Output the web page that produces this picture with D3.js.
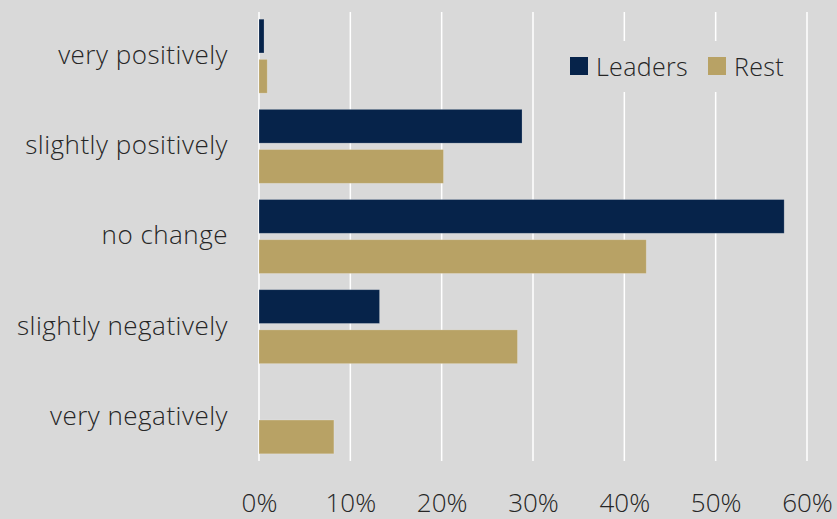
<!DOCTYPE html>
<html lang="en">
  <head>
    <meta charset="UTF-8" />
    <title>Leaders vs Rest</title>
    <style>
      body { margin: 0; background: #d9d9d9; }
      svg text { font-family: "Open Sans", "Lato", sans-serif; font-weight: 300; fill: #262626; }
    </style>
  </head>
  <body>
    <script src="https://cdn.jsdelivr.net/npm/d3@7"></script>
    <script>
      // data (percent)
      var categories = ["very positively", "slightly positively", "no change", "slightly negatively", "very negatively"];
      var seriesNames = ["Leaders", "Rest"];
      var leaders = [0.55, 28.8, 57.5, 13.2, 0];
      var rest = [0.9, 20.2, 42.4, 28.3, 8.2];
      var xTicks = [0, 10, 20, 30, 40, 50, 60];

      var colors = { Leaders: "#06234a", Rest: "#b8a265" };

      var w = 837;
      var h = 519;
      var margin = { top: 12, right: 30, bottom: 58, left: 259 };

      var svg = d3.select("body")
                  .append("svg")
                  .attr("width", w)
                  .attr("height", h);

      var data = categories.map(function(c, i) {
        return { cat: c, Leaders: leaders[i], Rest: rest[i] };
      });

      var xScale = d3.scaleLinear()
                     .domain([0, 60])
                     .range([margin.left, w - margin.right]);

      var yScale = d3.scaleBand()
                     .domain(categories)
                     .range([margin.top, h - margin.bottom])
                     .paddingInner(0.18)
                     .paddingOuter(0.08);

      var ySub = d3.scaleBand()
                   .domain(seriesNames)
                   .range([0, yScale.bandwidth()])
                   .paddingInner(0.16);

      // gridlines
      svg.append("g")
         .selectAll("line")
         .data(xTicks)
         .enter()
         .append("line")
         .attr("x1", function(d) { return xScale(d); })
         .attr("x2", function(d) { return xScale(d); })
         .attr("y1", margin.top)
         .attr("y2", h - margin.bottom)
         .style("stroke", "#ffffff")
         .style("stroke-width", 1.5);

      // bars
      var groups = svg.append("g")
         .selectAll("g")
         .data(data)
         .enter()
         .append("g")
         .attr("transform", function(d) { return "translate(0," + yScale(d.cat) + ")"; });

      groups.selectAll("rect")
         .data(function(d) {
           return seriesNames.map(function(s) { return { key: s, value: d[s] }; });
         })
         .enter()
         .filter(function(d) { return d.value > 0; })
         .append("rect")
         .attr("x", xScale(0))
         .attr("y", function(d) { return ySub(d.key); })
         .attr("width", function(d) { return xScale(d.value) - xScale(0); })
         .attr("height", ySub.bandwidth())
         .style("fill", function(d) { return colors[d.key]; })
         .style("stroke", "rgba(255,255,255,0.25)")
         .style("stroke-width", 0.8);

      // category labels
      svg.append("g")
         .selectAll("text")
         .data(categories)
         .enter()
         .append("text")
         .attr("x", margin.left - 31)
         .attr("y", function(d) { return yScale(d) + yScale.bandwidth() / 2 + 1; })
         .attr("text-anchor", "end")
         .attr("dominant-baseline", "middle")
         .style("font-size", "26px")
         .style("letter-spacing", "0.5px")
         .text(function(d) { return d; });

      // x axis
      var xAxis = d3.axisBottom()
                    .scale(xScale)
                    .tickValues(xTicks)
                    .tickSize(0)
                    .tickPadding(0)
                    .tickFormat(function(d) { return d + "%"; });

      var gx = svg.append("g")
         .attr("transform", "translate(0," + (h - margin.bottom) + ")")
         .call(xAxis);
      gx.select(".domain").remove();
      gx.selectAll("text")
        .attr("y", 51)
        .attr("dy", null)
        .style("font-size", "26px");
      gx.attr("font-family", null).attr("font-size", null);

      // legend
      var legend = svg.append("g");
      legend.append("rect")
            .attr("x", 558)
            .attr("y", 41)
            .attr("width", 240)
            .attr("height", 51)
            .style("fill", "#d9d9d9");

      var legendItems = [
        { key: "Leaders", x: 570, tx: 596 },
        { key: "Rest", x: 708, tx: 734 }
      ];
      legend.selectAll("rect.sw")
            .data(legendItems)
            .enter()
            .append("rect")
            .attr("class", "sw")
            .attr("x", function(d) { return d.x; })
            .attr("y", 57)
            .attr("width", 18)
            .attr("height", 18)
            .style("fill", function(d) { return colors[d.key]; });
      legend.selectAll("text")
            .data(legendItems)
            .enter()
            .append("text")
            .attr("x", function(d) { return d.tx; })
            .attr("y", 76)
            .style("font-size", "25px")
            .style("letter-spacing", "0.3px")
            .text(function(d) { return d.key; });
    </script>
  </body>
</html>
